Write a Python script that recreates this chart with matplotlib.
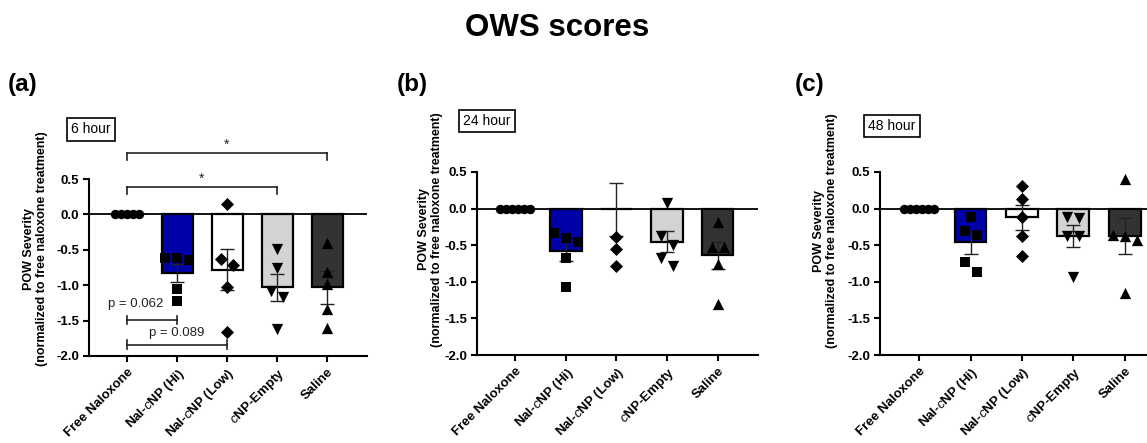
import numpy as np
import matplotlib
matplotlib.use('Agg')
import matplotlib.pyplot as plt
from matplotlib.ticker import FormatStrFormatter

plt.rcParams['font.family'] = ['Liberation Sans', 'DejaVu Sans']
plt.rcParams['axes.unicode_minus'] = False
plt.rcParams['mathtext.fontset'] = 'custom'
plt.rcParams['mathtext.it'] = 'Liberation Sans:italic'
plt.rcParams['mathtext.rm'] = 'Liberation Sans'

# grupos
groups = ['Free Naloxone', r'Nal-$\mathit{c}$NP (Hi)', r'Nal-$\mathit{c}$NP (Low)',
          r'$\mathit{c}$NP-Empty', 'Saline']

# 6 hour
mean_6h = [0.0, -0.83, -0.78, -1.03, -1.03]
sem_6h = [0.0, 0.13, 0.29, 0.19, 0.23]
pts_6h = [[0, 0, 0, 0, 0],
          [-0.62, -0.62, -0.64, -1.05, -1.23],
          [0.14, -0.63, -0.71, -1.02, -1.66],
          [-0.49, -0.75, -1.08, -1.17, -1.62],
          [-0.41, -0.81, -0.98, -1.33, -1.60]]

# 24 hour
mean_24h = [0.0, -0.58, -0.01, -0.45, -0.64]
sem_24h = [0.0, 0.13, 0.36, 0.145, 0.18]
pts_24h = [[0, 0, 0, 0, 0, 0],
           [-0.33, -0.40, -0.46, -0.68, -1.07],
           [-0.385, -0.555, -0.79],
           [0.08, -0.37, -0.50, -0.68, -0.78],
           [-0.185, -0.52, -0.52, -0.75, -1.30]]

# 48 hour
mean_48h = [0.0, -0.46, -0.12, -0.37, -0.37]
sem_48h = [0.0, 0.16, 0.17, 0.15, 0.245]
pts_48h = [[0, 0, 0, 0, 0, 0],
           [-0.11, -0.30, -0.36, -0.73, -0.86],
           [0.31, 0.125, -0.11, -0.37, -0.65],
           [-0.115, -0.13, -0.375, -0.375, -0.94],
           [0.40, -0.36, -0.375, -0.43, -1.15]]

bar_colors = ['white', '#0000a8', 'white', '#d3d3d3', '#333333']
markers = ['o', 's', 'D', 'v', '^']
msizes = [46, 56, 44, 66, 66]

W, H = 1147, 443
fig = plt.figure(figsize=(W / 100, H / 100), dpi=100)


def swarm(vals, ax, step_px, gap_px):
    # separa horizontalmente los puntos que se solapan (estilo GraphPad)
    bb = ax.get_window_extent()
    x0, x1 = ax.get_xlim()
    y0, y1 = ax.get_ylim()
    xpu = bb.width / (x1 - x0)
    ypu = bb.height / (y1 - y0)
    vals = np.asarray(vals, dtype=float)
    order = np.argsort(-vals, kind='stable')
    offs = np.zeros(len(vals))
    clusters = []
    cur = [order[0]]
    for i in order[1:]:
        if abs(vals[cur[-1]] - vals[i]) * ypu < gap_px:
            cur.append(i)
        else:
            clusters.append(cur)
            cur = [i]
    clusters.append(cur)
    for c in clusters:
        n = len(c)
        for k, i in enumerate(c):
            offs[i] = (k - (n - 1) / 2) * step_px / xpu
    return offs


def panel(box, means, sems, pts, tag, tag_xy, ylab_xy):
    l, r, t, b = box
    ax = fig.add_axes([l / W, 1 - b / H, (r - l) / W, (b - t) / H])
    x = np.arange(len(groups))
    ax.set_xlim(-0.76, 4.8)
    ax.set_ylim(-2.0, 0.5)
    ax.axhline(0, color='black', lw=1.3, zorder=1)
    ax.bar(x, means, width=0.62, color=bar_colors, edgecolor='black', linewidth=1.6, zorder=2)
    ax.errorbar(x, means, yerr=sems, fmt='none', ecolor='#222222', elinewidth=1.0,
                capsize=5, capthick=1.0, zorder=3)
    for i, v in enumerate(pts):
        step = 6 if markers[i] == 'o' else 12
        offs = swarm(v, ax, step, 10)
        ax.scatter(x[i] + offs, v, marker=markers[i], s=msizes[i], color='black',
                   linewidths=0, zorder=4)
    ax.spines['top'].set_visible(False)
    ax.spines['right'].set_visible(False)
    ax.spines['left'].set_linewidth(1.5)
    ax.spines['bottom'].set_linewidth(1.5)
    ax.set_yticks([-2.0, -1.5, -1.0, -0.5, 0.0, 0.5])
    ax.yaxis.set_major_formatter(FormatStrFormatter('%.1f'))
    ax.set_xticks(x)
    ax.set_xticklabels(groups, rotation=45, ha='right', rotation_mode='anchor')
    ax.tick_params(width=1.5, length=4, labelsize=9.5, pad=3)
    for lab in ax.get_xticklabels() + ax.get_yticklabels():
        lab.set_fontweight('bold')
    ax.set_ylabel('POW Severity\n(normalized to free naloxone treatment)',
                  fontweight='bold', fontsize=9, linespacing=1.15)
    ax.yaxis.set_label_coords(*ylab_xy)
    ax.text(tag_xy[0], tag_xy[1], tag, transform=ax.transAxes, ha='center', va='center',
            fontsize=10, bbox=dict(boxstyle='square,pad=0.3', fc='white', ec='black', lw=1.2))
    return ax


ax1 = panel((89, 367, 179, 356), mean_6h, sem_6h, pts_6h, '6 hour', (0.007, 1.28), (-0.147, 0.605))
ax2 = panel((477, 758, 172, 355), mean_24h, sem_24h, pts_24h, '24 hour', (0.036, 1.279), (-0.121, 0.686))
ax3 = panel((880, 1166, 172, 355), mean_48h, sem_48h, pts_48h, '48 hour', (0.042, 1.25), (-0.147, 0.68))


# barras de significancia en el panel (a)
def sig(ax, x1, x2, y, txt, tick, ty, tx=None, fs=9, w='normal'):
    ax.plot([x1, x2], [y, y], color='#222222', lw=1.2, clip_on=False, zorder=5)
    for xx in (x1, x2):
        ax.plot([xx, xx], [y + tick[0], y + tick[1]], color='#222222', lw=1.2, clip_on=False, zorder=5)
    ax.text((x1 + x2) / 2 if tx is None else tx, ty, txt, ha='center', va='center',
            fontsize=fs, fontweight=w, color='#222222')


sig(ax1, 0, 4, 0.87, '*', (-0.1, 0), 0.99, fs=10)
sig(ax1, 0, 3, 0.39, '*', (-0.1, 0), 0.51, fs=10)
sig(ax1, 0, 1, -1.49, 'p = 0.062', (-0.06, 0.06), -1.26, tx=0.18, fs=9.5)
sig(ax1, 0, 2, -1.84, 'p = 0.089', (-0.06, 0.06), -1.67, tx=1.0, fs=9.5)

fig.text(557 / W, 1 - 36 / H, 'OWS scores', ha='center', va='baseline', fontsize=22.5, fontweight='bold')
for px, lab in [(8, '(a)'), (397, '(b)'), (795, '(c)')]:
    fig.text(px / W, 1 - 91 / H, lab, ha='left', va='baseline', fontsize=17.5, fontweight='bold')

plt.savefig('out.png', dpi=100)
